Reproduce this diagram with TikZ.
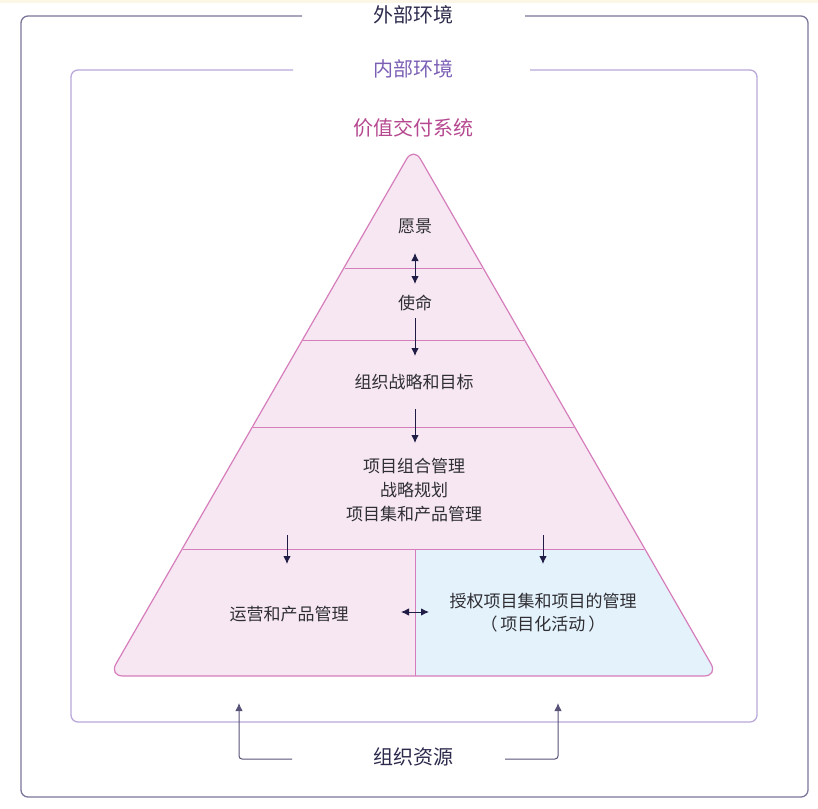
\documentclass[tikz,border=0pt]{standalone}
\usepackage{fontspec}
\setmainfont{Noto Sans CJK SC}
\usetikzlibrary{arrows.meta}
\definecolor{outerc}{HTML}{7D7599}
\definecolor{outert}{HTML}{2B2A4C}
\definecolor{innerc}{HTML}{B9A8D8}
\definecolor{innert}{HTML}{7B5FB5}
\definecolor{vdst}{HTML}{B5488F}
\definecolor{trist}{HTML}{D67DBB}
\definecolor{trifill}{HTML}{F6E7F2}
\definecolor{bluefill}{HTML}{E4F2FB}
\definecolor{txt}{HTML}{2E2E33}
\definecolor{arr}{HTML}{1F1D45}
\definecolor{cream}{HTML}{FBF6E6}
\tikzset{
  big/.style={font=\fontsize{20}{24}\selectfont, inner sep=0pt},
  lbl/.style={font=\fontsize{17}{24}\selectfont, text=txt, inner sep=0pt, align=center},
  arrw/.style={draw=arr, line width=1pt, -{Latex[length=8pt,width=7.5pt]}},
  darrw/.style={draw=arr, line width=1pt, {Latex[length=8pt,width=7.5pt]}-{Latex[length=8pt,width=7.5pt]}},
  layer/.style={draw=trist, line width=1pt},
}
\begin{document}
\begin{tikzpicture}[x=1pt,y=-1pt]
\useasboundingbox (0,0) rectangle (818,808);
\fill[cream] (0,0) rectangle (818,3.5);

% outer frame
\node[big, text=outert] (outer) at (413,15) {外部环境};
\draw[outerc, line width=1.3pt, rounded corners=7pt] (302,16) -- (21,16) -- (21,797) -- (808,797) -- (808,16) -- (525,16);
% inner frame
\node[big, text=innert] (inner) at (413,69) {内部环境};
\draw[innerc, line width=1.3pt, rounded corners=7pt] (293,70) -- (71,70) -- (71,722) -- (757,722) -- (757,70) -- (530,70);

\node[big, text=vdst] (vds) at (413,128) {价值交付系统};

% triangle
\coordinate (apex) at (413.5,147);
\coordinate (bl) at (109,676);
\coordinate (br) at (718,676);
\begin{scope}
  \clip[rounded corners=14pt] (apex) -- (br) -- (bl) -- cycle;
  \fill[trifill] (0,100) rectangle (818,700);
  \fill[bluefill] (415,549) rectangle (760,700);
\end{scope}
\coordinate (l1a) at (344.9,268); \coordinate (l1b) at (482.1,268);
\coordinate (l2a) at (303.4,340); \coordinate (l2b) at (523.6,340);
\coordinate (l3a) at (253.2,427); \coordinate (l3b) at (573.8,427);
\coordinate (l4a) at (182.9,549); \coordinate (l4b) at (644.1,549);
\coordinate (vt) at (415,549); \coordinate (vb) at (415,676);
\draw[layer] (l1a) -- (l1b);
\draw[layer] (l2a) -- (l2b);
\draw[layer] (l3a) -- (l3b);
\draw[layer] (l4a) -- (l4b);
\draw[layer] (vt) -- (vb);
\draw[trist, line width=1.2pt, rounded corners=14pt] (apex) -- (br) -- (bl) -- cycle;

% labels
\node[lbl] (vision) at (415,226) {愿景};
\node[lbl] (mission) at (415,303) {使命};
\node[lbl] (strategy) at (414,382) {组织战略和目标};
\node[lbl] (portfolio) at (414,490) {项目组合管理\\战略规划\\项目集和产品管理};
\node[lbl] (ops) at (289,614) {运营和产品管理};
\node[lbl, font=\fontsize{17}{23}\selectfont] (proj) at (543,613) {授权项目集和项目的管理\\（\hspace{3pt}项目化活动\hspace{3pt}）};
\node[big, text=outert] (res) at (413,757) {组织资源};

% arrows
\coordinate (a1s) at (415,253); \coordinate (a1e) at (415,284);
\draw[darrw] (a1s) -- (a1e);
\coordinate (a2s) at (415,318); \coordinate (a2e) at (415,356);
\draw[arrw] (a2s) -- (a2e);
\coordinate (a3s) at (415,409); \coordinate (a3e) at (415,443);
\draw[arrw] (a3s) -- (a3e);
\coordinate (a4s) at (287,535); \coordinate (a4e) at (287,564);
\draw[arrw] (a4s) -- (a4e);
\coordinate (a5s) at (543,535); \coordinate (a5e) at (543,564);
\draw[arrw] (a5s) -- (a5e);
\coordinate (a6s) at (401,612); \coordinate (a6e) at (429,612);
\draw[darrw] (a6s) -- (a6e);

% resources arrows
\coordinate (rl) at (292,759); \coordinate (rlc) at (239,759); \coordinate (rlt) at (239,703);
\coordinate (rr) at (505,759); \coordinate (rrc) at (558,759); \coordinate (rrt) at (558,703);
\draw[arrw, draw=outerc!60!arr, rounded corners=3pt] (rl) -- (rlc) -- (rlt);
\draw[arrw, draw=outerc!60!arr, rounded corners=3pt] (rr) -- (rrc) -- (rrt);
\end{tikzpicture}
\end{document}
